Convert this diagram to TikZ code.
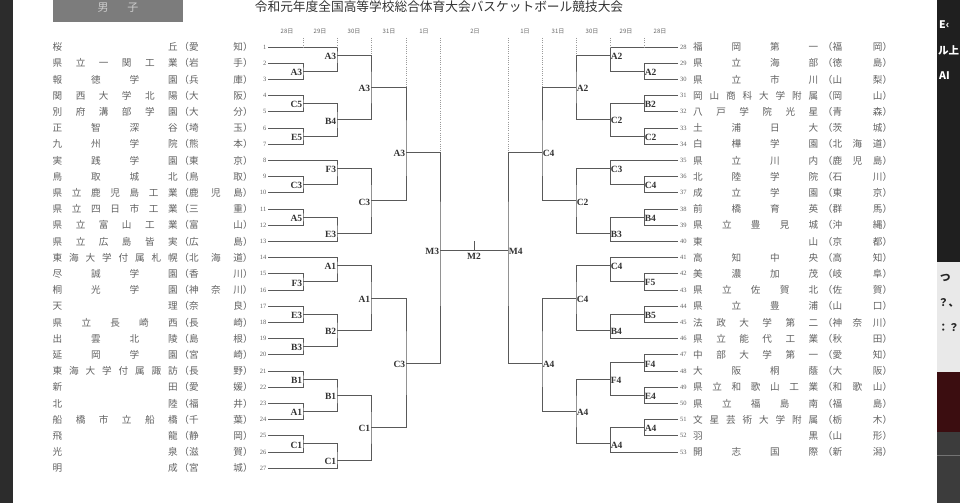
\documentclass[tikz,border=0pt]{standalone}
\usepackage{fontspec}
\setmainfont{Liberation Serif}
\newfontfamily\jpf{Noto Sans CJK JP}
\definecolor{linec}{HTML}{595959}
\definecolor{txtc}{HTML}{626262}
\definecolor{dotc}{HTML}{9A9A9A}
\definecolor{boxc}{HTML}{7C7C7C}
\definecolor{stripc}{HTML}{2C2C2C}
\definecolor{stripr}{HTML}{1F1F1F}
\definecolor{stripl}{HTML}{E9E9E9}
\definecolor{stripred}{HTML}{3B0D10}
\definecolor{stripg}{HTML}{3C3C3C}
\def\sprdloop#1#2\sprdstop{#1\if\relax\detokenize{#2}\relax\else\hfill\sprdloop#2\sprdstop\fi}
\tikzset{
 br/.style={draw=linec, line width=0.9pt},
 dotln/.style={draw=dotc, line width=0.7pt, dash pattern=on 1pt off 1.2pt},
 lbl/.style={font=\fontsize{9.5}{10}\selectfont\bfseries, text=black!80, inner sep=0.6pt},
 nm/.style={font=\jpf\fontsize{9.6}{10}\selectfont, text=txtc, inner sep=0pt},
 num/.style={font=\fontsize{6.5}{7}\selectfont, text=txtc, inner sep=0pt},
 dte/.style={font=\jpf\fontsize{6}{6}\selectfont, text=black!60, inner sep=0pt},
 frag/.style={font=\jpf\bfseries\fontsize{10.5}{11}\selectfont, inner sep=0pt, anchor=west},
}
\newcommand\LM[6]{\coordinate (#1) at (#2,#3);\draw[br] (#5) -| (#1) |- (#6);\node[lbl,anchor=east,yshift=-1pt] (#1-l) at (#1) {#4};}
\newcommand\RM[6]{\coordinate (#1) at (#2,#3);\draw[br] (#5) -| (#1) |- (#6);\node[lbl,anchor=west,yshift=-1pt] (#1-l) at (#1) {#4};}
\begin{document}
\begin{tikzpicture}[x=1pt,y=-1pt]
\useasboundingbox (0,0) rectangle (960,503);
\fill[white] (0,0) rectangle (960,503);
% side strips
\fill[stripc] (0,0) rectangle (13,503);
\fill[stripr] (937,0) rectangle (960,503);
\fill[stripl] (937,262) rectangle (960,372);
\fill[stripred] (937,372) rectangle (960,432);
\fill[stripg] (937,432) rectangle (960,503);
\draw[black!55, line width=0.8pt] (937,455) -- (960,455);
\node[frag, text=white] (fr1) at (939,25) {E‹};
\node[frag, text=white] (fr2) at (938,50) {ル上};
\node[frag, text=white] (fr3) at (939,76) {AI};
\node[frag, text=black!85] (fr4) at (940,278) {つ};
\node[frag, text=black!85] (fr5) at (938,303) {？、};
\node[frag, text=black!85] (fr6) at (938,328) {：？};
% header box
\fill[boxc] (53,0) rectangle (183,22);
\node[font=\jpf\fontsize{11}{11}\selectfont, text=black!20, inner sep=0pt] (sex) at (118,8) {\makebox[41pt]{男\hfill 子}};
\node[font=\jpf\fontsize{12.7}{13}\selectfont, text=black!80, inner sep=0pt] (title) at (439,7) {令和元年度全国高等学校総合体育大会バスケットボール競技大会};
% dates
\foreach \x/\d [count=\k] in {287/28日,320/29日,354/30日,389/31日,424/1日,475/2日,525/1日,558/31日,592/30日,626/29日,660/28日}
  \node[dte] (date\k) at (\x,31) {\d};
% left teams
\foreach \sch/\prf [count=\i] in {桜丘/愛知,県立一関工業/岩手,報徳学園/兵庫,関西大学北陽/大阪,別府溝部学園/大分,正智深谷/埼玉,九州学院/熊本,実践学園/東京,鳥取城北/鳥取,県立鹿児島工業/鹿児島,県立四日市工業/三重,県立富山工業/富山,県立広島皆実/広島,東海大学付属札幌/北海道,尽誠学園/香川,桐光学園/神奈川,天理/奈良,県立長崎西/長崎,出雲北陵/島根,延岡学園/宮崎,東海大学付属諏訪/長野,新田/愛媛,北陸/福井,船橋市立船橋/千葉,飛龍/静岡,光泉/滋賀,明成/宮城} {
  \coordinate (t\i) at (268,{47+(\i-1)*16.2});
  \node[nm,anchor=west] (sn\i) at (52.5,{47+(\i-1)*16.2}) {\makebox[125pt]{\expandafter\sprdloop\sch\sprdstop}};
  \node[nm] (pf\i) at (216,{47+(\i-1)*16.2}) {（\makebox[54pt]{\expandafter\sprdloop\prf\sprdstop}）};
  \node[num,anchor=east] (no\i) at (266.5,{47+(\i-1)*16.2}) {\i};
}
% right teams
\foreach \sch/\prf [count=\j from 28] in {福岡第一/福岡,県立海部/徳島,県立市川/山梨,岡山商科大学附属/岡山,八戸学院光星/青森,土浦日大/茨城,白樺学園/北海道,県立川内/鹿児島,北陸学院/石川,成立学園/東京,前橋育英/群馬,県立豊見城/沖縄,東山/京都,高知中央/高知,美濃加茂/岐阜,県立佐賀北/佐賀,県立豊浦/山口,法政大学第二/神奈川,県立能代工業/秋田,中部大学第一/愛知,大阪桐蔭/大阪,県立和歌山工業/和歌山,県立福島南/福島,文星芸術大学附属/栃木,羽黒/山形,開志国際/新潟} {
  \coordinate (t\j) at (678,{47+(\j-28)*16.2});
  \node[nm,anchor=west] (sn\j) at (693,{47+(\j-28)*16.2}) {\makebox[125pt]{\expandafter\sprdloop\sch\sprdstop}};
  \node[nm] (pf\j) at (857.5,{47+(\j-28)*16.2}) {（\makebox[50pt]{\expandafter\sprdloop\prf\sprdstop}）};
  \node[num,anchor=west] (no\j) at (680,{47+(\j-28)*16.2}) {\j};
}
% left bracket
\LM{p23}{303}{71.3}{A3}{t2}{t3}
\LM{p45}{303}{103.7}{C5}{t4}{t5}
\LM{p67}{303}{136.1}{E5}{t6}{t7}
\LM{p910}{303}{184.7}{C3}{t9}{t10}
\LM{p1112}{303}{217.1}{A5}{t11}{t12}
\LM{p1516}{303}{281.9}{F3}{t15}{t16}
\LM{p1718}{303}{314.3}{E3}{t17}{t18}
\LM{p1920}{303}{346.7}{B3}{t19}{t20}
\LM{p2122}{303}{379.1}{B1}{t21}{t22}
\LM{p2324}{303}{411.5}{A1}{t23}{t24}
\LM{p2526}{303}{443.9}{C1}{t25}{t26}
\LM{q1}{337}{55.1}{A3}{t1}{p23}
\LM{q2}{337}{119.9}{B4}{p45}{p67}
\LM{q3}{337}{168.5}{F3}{t8}{p910}
\LM{q4}{337}{233.3}{E3}{p1112}{t13}
\LM{q5}{337}{265.7}{A1}{t14}{p1516}
\LM{q6}{337}{330.5}{B2}{p1718}{p1920}
\LM{q7}{337}{395.3}{B1}{p2122}{p2324}
\LM{q8}{337}{460.1}{C1}{p2526}{t27}
\LM{r1}{371}{87.5}{A3}{q1}{q2}
\LM{r2}{371}{200.9}{C3}{q3}{q4}
\LM{r3}{371}{298.1}{A1}{q5}{q6}
\LM{r4}{371}{427.7}{C1}{q7}{q8}
\LM{s1}{406}{152.3}{A3}{r1}{r2}
\LM{s2}{406}{363.3}{C3}{r3}{r4}
\LM{m3}{440}{250}{M3}{s1}{s2}
% right bracket
\RM{P2930}{644}{71.3}{A2}{t29}{t30}
\RM{P3132}{644}{103.7}{B2}{t31}{t32}
\RM{P3334}{644}{136.1}{C2}{t33}{t34}
\RM{P3637}{644}{184.7}{C4}{t36}{t37}
\RM{P3839}{644}{217.1}{B4}{t38}{t39}
\RM{P4243}{644}{281.9}{F5}{t42}{t43}
\RM{P4445}{644}{314.3}{B5}{t44}{t45}
\RM{P4748}{644}{362.9}{F4}{t47}{t48}
\RM{P4950}{644}{395.3}{E4}{t49}{t50}
\RM{P5152}{644}{427.7}{A4}{t51}{t52}
\RM{Q1}{610}{55.1}{A2}{t28}{P2930}
\RM{Q2}{610}{119.9}{C2}{P3132}{P3334}
\RM{Q3}{610}{168.5}{C3}{t35}{P3637}
\RM{Q4}{610}{233.3}{B3}{P3839}{t40}
\RM{Q5}{610}{265.7}{C4}{t41}{P4243}
\RM{Q6}{610}{330.5}{B4}{P4445}{t46}
\RM{Q7}{610}{379.1}{F4}{P4748}{P4950}
\RM{Q8}{610}{443.9}{A4}{P5152}{t53}
\RM{R1}{576}{87.5}{A2}{Q1}{Q2}
\RM{R2}{576}{200.9}{C2}{Q3}{Q4}
\RM{R3}{576}{298.1}{C4}{Q5}{Q6}
\RM{R4}{576}{411.5}{A4}{Q7}{Q8}
\RM{S1}{542}{152.3}{C4}{R1}{R2}
\RM{S2}{542}{363.3}{A4}{R3}{R4}
\RM{m4}{508}{250}{M4}{S1}{S2}
% final
\coordinate (m2) at (474,250);
\coordinate (m2t) at (474,241);
\draw[br] (m3) -- (m4);
\draw[br] (m2t) -- (m2);
\node[lbl,anchor=north] (m2l) at (474,252) {M2};
% dotted day lines
\foreach \x/\e [count=\k] in {303/t1,337/t1,371/q1,406/r1,440/s1,508/S1,542/R1,576/Q1,610/t28,644/t28} {
  \coordinate (dt\k) at (\x,38);
  \draw[dotln] (dt\k) -- (dt\k |- \e);
}
\end{tikzpicture}
\end{document}
